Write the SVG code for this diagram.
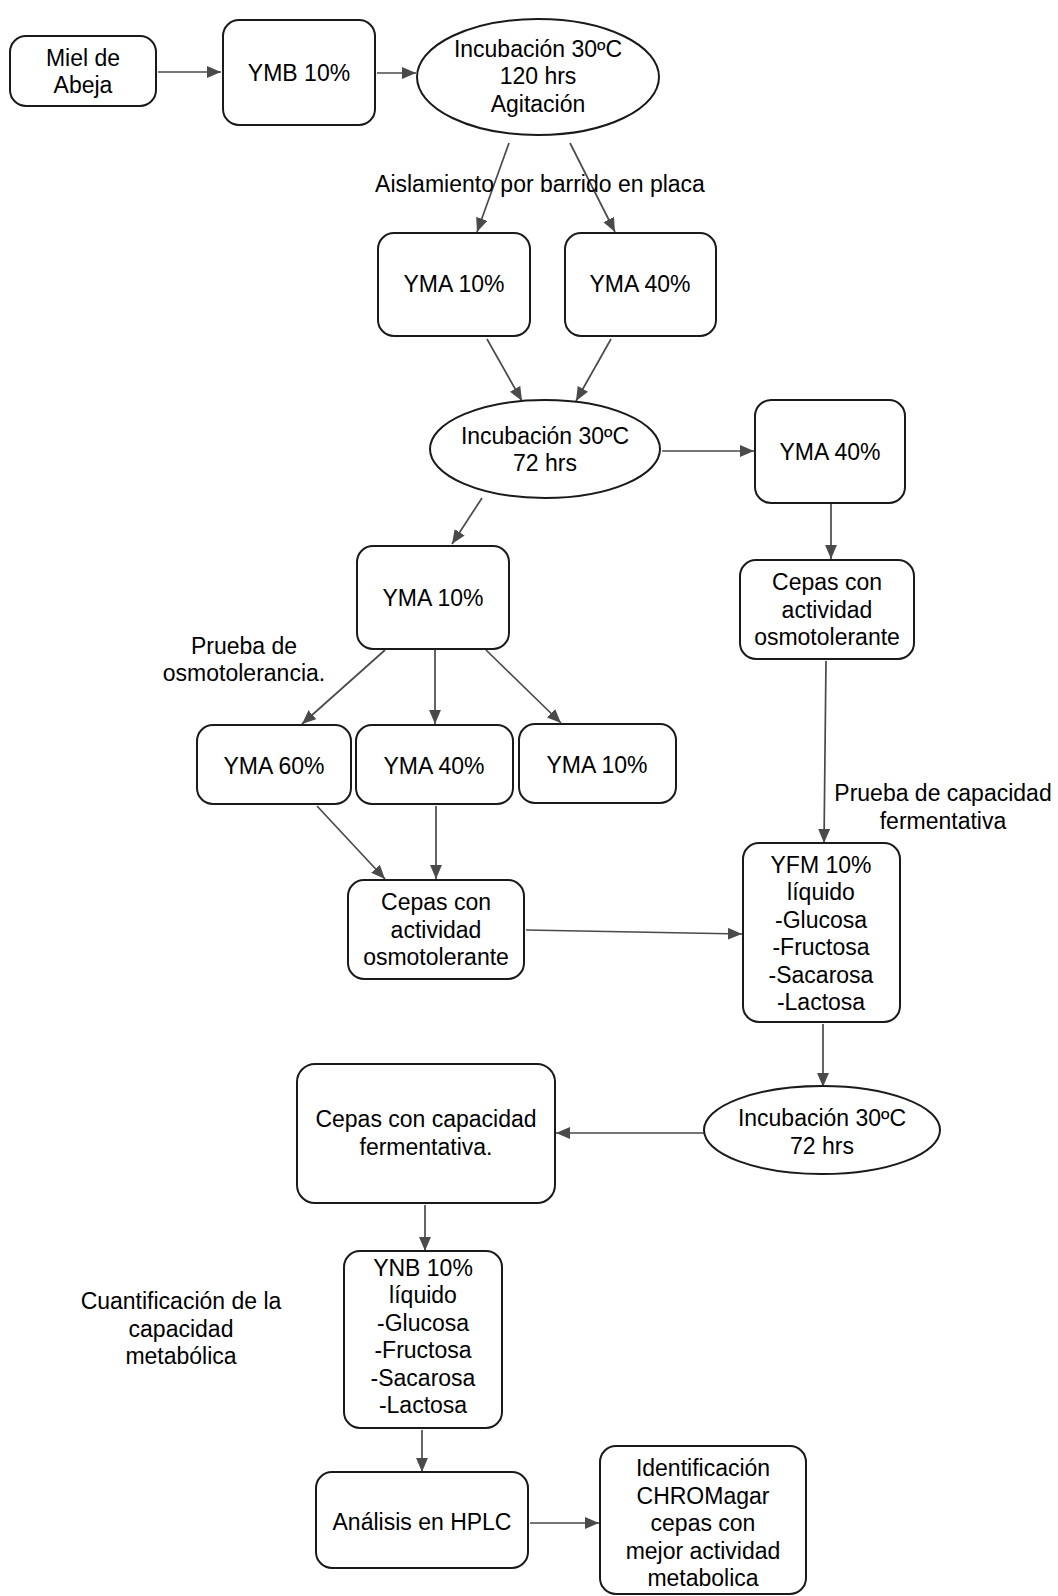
<svg xmlns="http://www.w3.org/2000/svg" width="1058" height="1596" viewBox="0 0 1058 1596">
<defs>
<style>
.n{fill:#fff;stroke:#1a1a1a;stroke-width:2}
.t{font-family:"Liberation Sans",Arial,sans-serif;font-size:23px;fill:#000;text-anchor:middle}
.c{fill:none;stroke:#4a4a4a;stroke-width:1.7}
</style>
<marker id="a" viewBox="0 0 13 11" refX="13" refY="5.5" markerWidth="14" markerHeight="12" markerUnits="userSpaceOnUse" orient="auto">
<path d="M0,0 L13,5.5 L0,11 z" fill="#4a4a4a"/>
</marker>
</defs>
<rect width="1058" height="1596" fill="#fff"/>
<g id="connectors">
<line class="c" x1="158" y1="72" x2="221" y2="72" marker-end="url(#a)"/>
<line class="c" x1="377" y1="73" x2="416" y2="73" marker-end="url(#a)"/>
<line class="c" x1="509" y1="143" x2="477" y2="232" marker-end="url(#a)"/>
<line class="c" x1="570" y1="143" x2="615" y2="232" marker-end="url(#a)"/>
<line class="c" x1="487" y1="339" x2="522" y2="401" marker-end="url(#a)"/>
<line class="c" x1="611" y1="339" x2="576" y2="401" marker-end="url(#a)"/>
<line class="c" x1="662" y1="451" x2="754" y2="451" marker-end="url(#a)"/>
<line class="c" x1="482" y1="498" x2="452" y2="544" marker-end="url(#a)"/>
<line class="c" x1="385" y1="650" x2="302" y2="724" marker-end="url(#a)"/>
<line class="c" x1="435" y1="650" x2="435" y2="724" marker-end="url(#a)"/>
<line class="c" x1="486" y1="650" x2="561" y2="723" marker-end="url(#a)"/>
<line class="c" x1="317" y1="806" x2="385" y2="879" marker-end="url(#a)"/>
<line class="c" x1="436" y1="806" x2="436" y2="879" marker-end="url(#a)"/>
<line class="c" x1="526" y1="930" x2="742" y2="934" marker-end="url(#a)"/>
<line class="c" x1="831" y1="504" x2="831" y2="559" marker-end="url(#a)"/>
<line class="c" x1="826" y1="661" x2="824" y2="843" marker-end="url(#a)"/>
<line class="c" x1="823" y1="1024" x2="823" y2="1087" marker-end="url(#a)"/>
<line class="c" x1="704" y1="1133" x2="556" y2="1133" marker-end="url(#a)"/>
<line class="c" x1="425" y1="1205" x2="425" y2="1251" marker-end="url(#a)"/>
<line class="c" x1="422" y1="1430" x2="422" y2="1472" marker-end="url(#a)"/>
<line class="c" x1="530" y1="1523" x2="599" y2="1523" marker-end="url(#a)"/>
</g>
<g id="labels">
<text class="t" x="540" y="192">Aislamiento por barrido en placa</text>
<text class="t" x="244" y="654">Prueba de</text>
<text class="t" x="244" y="681">osmotolerancia.</text>
<text class="t" x="943" y="801">Prueba de capacidad</text>
<text class="t" x="943" y="829">fermentativa</text>
<text class="t" x="181" y="1309">Cuantificación de la</text>
<text class="t" x="181" y="1337">capacidad</text>
<text class="t" x="181" y="1364">metabólica</text>
</g>
<g id="miel"><rect class="n" x="10" y="36" width="146" height="70" rx="16"/><text class="t" x="83" y="66">Miel de</text><text class="t" x="83" y="93">Abeja</text></g>
<g id="ymb10"><rect class="n" x="223" y="20" width="152" height="105" rx="16"/><text class="t" x="299" y="81">YMB 10%</text></g>
<g id="inc1"><ellipse class="n" cx="538" cy="77" rx="121" ry="58"/><text class="t" x="538" y="57">Incubación 30ºC</text><text class="t" x="538" y="84">120 hrs</text><text class="t" x="538" y="112">Agitación</text></g>
<g id="yma10a"><rect class="n" x="378" y="233" width="152" height="103" rx="16"/><text class="t" x="454" y="292">YMA 10%</text></g>
<g id="yma40a"><rect class="n" x="565" y="233" width="151" height="103" rx="16"/><text class="t" x="640" y="292">YMA 40%</text></g>
<g id="inc2"><ellipse class="n" cx="545" cy="449" rx="115" ry="49"/><text class="t" x="545" y="444">Incubación 30ºC</text><text class="t" x="545" y="471">72 hrs</text></g>
<g id="yma40b"><rect class="n" x="755" y="400" width="150" height="103" rx="16"/><text class="t" x="830" y="460">YMA 40%</text></g>
<g id="yma10b"><rect class="n" x="357" y="546" width="152" height="103" rx="16"/><text class="t" x="433" y="606">YMA 10%</text></g>
<g id="yma60"><rect class="n" x="197" y="725" width="154" height="79" rx="16"/><text class="t" x="274" y="774">YMA 60%</text></g>
<g id="yma40c"><rect class="n" x="356" y="725" width="157" height="79" rx="16"/><text class="t" x="434" y="774">YMA 40%</text></g>
<g id="yma10c"><rect class="n" x="519" y="724" width="157" height="79" rx="16"/><text class="t" x="597" y="773">YMA 10%</text></g>
<g id="cepasL"><rect class="n" x="348" y="880" width="176" height="99" rx="16"/><text class="t" x="436" y="910">Cepas con</text><text class="t" x="436" y="938">actividad</text><text class="t" x="436" y="965">osmotolerante</text></g>
<g id="cepasR"><rect class="n" x="740" y="560" width="174" height="99" rx="16"/><text class="t" x="827" y="590">Cepas con</text><text class="t" x="827" y="618">actividad</text><text class="t" x="827" y="645">osmotolerante</text></g>
<g id="yfm"><rect class="n" x="743" y="843" width="157" height="179" rx="16"/><text class="t" x="821" y="873">YFM 10%</text><text class="t" x="821" y="900">líquido</text><text class="t" x="821" y="928">-Glucosa</text><text class="t" x="821" y="955">-Fructosa</text><text class="t" x="821" y="983">-Sacarosa</text><text class="t" x="821" y="1010">-Lactosa</text></g>
<g id="inc3"><ellipse class="n" cx="822" cy="1130" rx="118" ry="44"/><text class="t" x="822" y="1126">Incubación 30ºC</text><text class="t" x="822" y="1154">72 hrs</text></g>
<g id="cepasF"><rect class="n" x="297" y="1064" width="258" height="139" rx="18"/><text class="t" x="426" y="1127">Cepas con capacidad</text><text class="t" x="426" y="1155">fermentativa.</text></g>
<g id="ynb"><rect class="n" x="344" y="1251" width="158" height="177" rx="16"/><text class="t" x="423" y="1276">YNB 10%</text><text class="t" x="423" y="1303">líquido</text><text class="t" x="423" y="1331">-Glucosa</text><text class="t" x="423" y="1358">-Fructosa</text><text class="t" x="423" y="1386">-Sacarosa</text><text class="t" x="423" y="1413">-Lactosa</text></g>
<g id="hplc"><rect class="n" x="316" y="1472" width="212" height="96" rx="16"/><text class="t" x="422" y="1530">Análisis en HPLC</text></g>
<g id="ident"><rect class="n" x="600" y="1446" width="206" height="148" rx="16"/><text class="t" x="703" y="1476">Identificación</text><text class="t" x="703" y="1504">CHROMagar</text><text class="t" x="703" y="1531">cepas con</text><text class="t" x="703" y="1559">mejor actividad</text><text class="t" x="703" y="1586">metabolica</text></g>
</svg>
